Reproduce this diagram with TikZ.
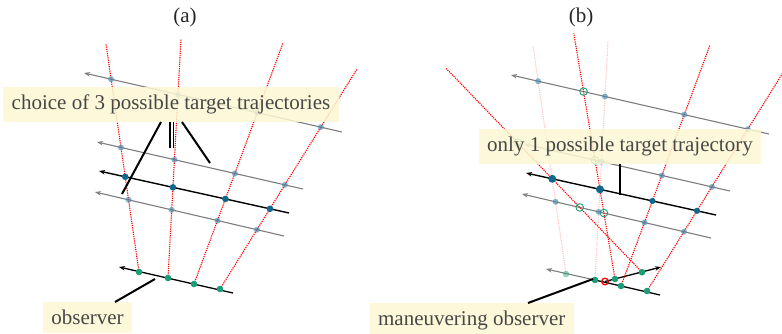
\documentclass[tikz,border=0pt]{standalone}
\usepackage{fontspec}
\setmainfont{Liberation Serif}
\usetikzlibrary{arrows.meta,calc}
\definecolor{tgtdark}{RGB}{16,104,140}
\definecolor{tgtlight}{RGB}{70,140,178}
\definecolor{obsgreen}{RGB}{27,158,119}
\definecolor{labfill}{RGB}{252,247,210}
\definecolor{trajgray}{RGB}{125,125,125}
\begin{document}
\begin{tikzpicture}[x=1pt,y=-1pt,
  traj/.style={draw=trajgray, line width=1.1pt, {Stealth[length=6pt,width=4.5pt]}-},
  truetraj/.style={draw=black, line width=1.4pt, {Stealth[length=6pt,width=4.5pt]}-},
  obstraj/.style={draw=black, line width=1.3pt, {Stealth[length=6pt,width=4.5pt]}-},
  bear/.style={draw=red, line width=1.1pt, dash pattern=on 1.2pt off 1pt},
  faintbear/.style={bear, draw opacity=0.22},
  tdot/.style={fill=tgtlight, fill opacity=0.65},
  kdot/.style={fill=tgtdark},
  odot/.style={fill=obsgreen},
  gcirc/.style={draw=obsgreen, line width=0.9pt},
  ptr/.style={draw=black, line width=2pt},
  lab/.style={fill=labfill, fill opacity=0.85, text opacity=1, text=black!72,
    font=\fontsize{21}{24}\selectfont, inner xsep=8.5pt, inner ysep=8pt},
  ttl/.style={text=black!85, font=\fontsize{21}{24}\selectfont, inner sep=0pt}]
\useasboundingbox (0,0) rectangle (782,333);
\clip (0,0) rectangle (782,333);

% ================= panel (a) =================
\coordinate (a-g1-s) at (84,73);  \coordinate (a-g1-e) at (342,132);
\coordinate (a-g2-s) at (97,142); \coordinate (a-g2-e) at (303,189);
\coordinate (a-k-s)  at (99,171); \coordinate (a-k-e)  at (289,213);
\coordinate (a-g3-s) at (95,192); \coordinate (a-g3-e) at (284,236);
\coordinate (a-os) at (119,267);  \coordinate (a-oe) at (233,293);
\coordinate (a-o1) at (139,272); \coordinate (a-o2) at (168,278);
\coordinate (a-o3) at (194,284); \coordinate (a-o4) at (220,289);
\coordinate (a-t1) at (106,44);  \coordinate (a-t2) at (181,39);
\coordinate (a-t3) at (283,43);  \coordinate (a-t4) at (357,69);

\draw[traj] (a-g1-s) -- (a-g1-e);
\draw[traj] (a-g2-s) -- (a-g2-e);
\draw[truetraj] (a-k-s) -- (a-k-e);
\draw[traj] (a-g3-s) -- (a-g3-e);
\draw[obstraj] (a-os) -- (a-oe);
\foreach \i in {1,...,4} {
  \draw[bear] (a-o\i) -- (a-t\i);
}
\foreach \i in {1,...,4} {
  \foreach \g in {g1,g2,g3} {
    \fill[tdot] (intersection of a-\g-s--a-\g-e and a-o\i--a-t\i) circle (3);
  }
  \fill[kdot] (intersection of a-k-s--a-k-e and a-o\i--a-t\i) circle (3.3);
  \fill[odot] (a-o\i) circle (3.3);
}

\node[ttl] (a-title) at (185,17) {(a)};
\node[lab] (lab-a) at (171,104.5) {choice of 3 possible target trajectories};
\node[lab, anchor=north] (lab-obs) at (87.5,302) {observer};

\coordinate (a-pA) at (161,122);  \coordinate (a-pAe) at (122,194);
\coordinate (a-pB1) at (170,122); \coordinate (a-pB1e) at (170,148);
\coordinate (a-pB2) at (173.5,122); \coordinate (a-pB2e) at (173.5,148);
\coordinate (a-pC) at (182,122);  \coordinate (a-pCe) at (210,163);
\coordinate (a-pO) at (115,302);  \coordinate (a-pOe) at (155,279);
\draw[ptr] (a-pA) -- (a-pAe);
\draw[ptr, line width=1.7pt] (a-pB1) -- (a-pB1e);
\draw[ptr, line width=1.4pt] (a-pB2) -- (a-pB2e);
\draw[ptr] (a-pC) -- (a-pCe);
\draw[ptr] (a-pO) -- (a-pOe);

% ================= panel (b) =================
\begin{scope}[shift={(427,2)}]
\coordinate (b-g1-s) at (84,73);  \coordinate (b-g1-e) at (342,132);
\coordinate (b-g2-s) at (97,142); \coordinate (b-g2-e) at (303,189);
\coordinate (b-k-s)  at (99,171); \coordinate (b-k-e)  at (289,213);
\coordinate (b-g3-s) at (95,192); \coordinate (b-g3-e) at (284,236);
\coordinate (b-os) at (119,267);  \coordinate (b-oe) at (233,293);
\coordinate (b-o1) at (139,272); \coordinate (b-o2) at (168,278);
\coordinate (b-o3) at (194,284); \coordinate (b-o4) at (220,289);
\coordinate (b-t1) at (106,44);  \coordinate (b-t2) at (181,39);
\coordinate (b-t3) at (283,43);  \coordinate (b-t4) at (357,69);
\coordinate (b-M)  at (178,279.5); \coordinate (b-Me) at (234,265);
\coordinate (b-m1) at (188,277); \coordinate (b-m2) at (215,270.2);
\end{scope}
\coordinate (b-k1) at (intersection of b-k-s--b-k-e and b-o1--b-t1);
\coordinate (b-k2) at (intersection of b-k-s--b-k-e and b-o2--b-t2);
\coordinate (b-k3) at (intersection of b-k-s--b-k-e and b-o3--b-t3);
\coordinate (b-k4) at (intersection of b-k-s--b-k-e and b-o4--b-t4);
\coordinate (b-n1) at ($(b-m2)!2.18!(b-k1)$);
\coordinate (b-n2) at ($(b-m1)!2.74!(b-k2)$);

\draw[traj] (b-g1-s) -- (b-g1-e);
\draw[traj] (b-g2-s) -- (b-g2-e);
\draw[truetraj] (b-k-s) -- (b-k-e);
\draw[traj] (b-g3-s) -- (b-g3-e);
\draw[traj] (b-os) -- (b-o2);
\draw[draw=black, line width=1.3pt] (b-o2) -- (b-oe);
\draw[draw=black, line width=1.3pt, -{Stealth[length=6pt,width=4.5pt]}] (b-M) -- (b-Me);

\draw[faintbear] (b-o1) -- (b-t1);
\draw[faintbear] (b-o2) -- (b-t2);
\draw[bear] (b-o3) -- (b-t3);
\draw[bear] (b-o4) -- (b-t4);
\draw[bear] (b-m2) -- (b-n1);
\draw[bear] (b-m1) -- (b-n2);

\foreach \i in {1,...,4} {
  \foreach \g in {g1,g2,g3} {
    \fill[tdot] (intersection of b-\g-s--b-\g-e and b-o\i--b-t\i) circle (3);
  }
}
\foreach \g in {g2,g3} {
  \draw[gcirc] (intersection of b-m2--b-n1 and b-\g-s--b-\g-e) circle (3.8);
}
\foreach \g in {g1,g2,g3} {
  \draw[gcirc] (intersection of b-m1--b-n2 and b-\g-s--b-\g-e) circle (3.8);
}
\fill[kdot] (b-k1) circle (4);
\fill[kdot] (b-k2) circle (4);
\fill[kdot] (b-k3) circle (3.1);
\fill[kdot] (b-k4) circle (3.1);
\fill[odot, fill opacity=0.45] (b-o1) circle (3.3);
\fill[odot] (b-o2) circle (3.3);
\fill[odot] (b-o3) circle (3.3);
\fill[odot] (b-o4) circle (3.3);
\fill[odot] (b-m1) circle (3.3);
\fill[odot] (b-m2) circle (3.3);
\draw[draw=red, line width=1.3pt] (b-M) circle (3.3);

\node[ttl] (b-title) at (581,17) {(b)};
\node[lab] (lab-b) at (620,146.5) {only 1 possible target trajectory};
\node[lab, anchor=north east] (lab-mobs) at (574,303) {maneuvering observer};

\coordinate (b-pV) at (620,164); \coordinate (b-pVe) at (620,195);
\coordinate (b-pO) at (528,303); \coordinate (b-pOe) at (593,279);
\draw[ptr] (b-pV) -- (b-pVe);
\draw[ptr] (b-pO) -- (b-pOe);
\end{tikzpicture}
\end{document}
